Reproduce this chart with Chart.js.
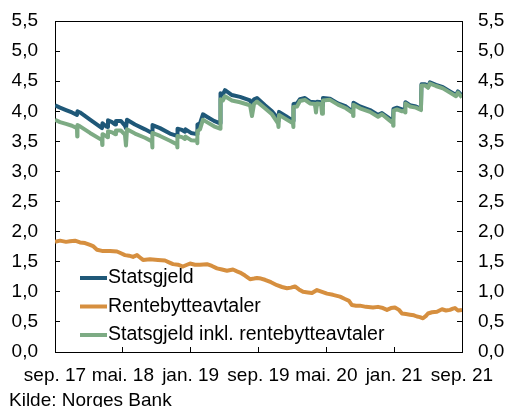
<!DOCTYPE html>
<html lang="no">
<head>
<meta charset="utf-8">
<title>Statsgjeld – rentebindingstid</title>
<script src="https://cdn.jsdelivr.net/npm/chart.js@4.4.1/dist/chart.umd.min.js"></script>
<style>
  html, body { margin: 0; padding: 0; background: #fff; }
  canvas { display: block; }
</style>
</head>
<body>
<canvas id="chart" width="507" height="407"></canvas>
<script>
// x values are months counted from September 2017
const tickMonths = [0, 8, 16, 24, 32, 40, 48];
const tickLabels = ['sep. 17', 'mai. 18', 'jan. 19', 'sep. 19', 'mai. 20', 'jan. 21', 'sep. 21'];

const seriesNames = ['Statsgjeld', 'Rentebytteavtaler', 'Statsgjeld inkl. rentebytteavtaler'];

const statsgjeldMonths = [
  0.00, 0.59, 1.30, 2.00, 2.59, 2.65, 2.95, 4.13, 5.54, 5.60, 6.01, 6.19, 6.25, 6.72, 7.08, 7.19,
  7.78, 8.25, 8.37, 8.49, 9.43, 10.61, 11.44, 11.50, 12.38, 13.56, 14.39, 14.45, 14.98, 15.33, 15.39,
  16.04, 16.75, 16.80, 17.10, 17.45, 17.92, 18.75, 19.46, 19.52, 19.81, 20.05, 20.87, 21.82, 23.00,
  23.23, 23.47, 23.82, 24.76, 25.59, 26.30, 26.36, 26.42, 27.24, 28.07, 28.13, 28.54, 28.89, 29.48,
  30.07, 30.66, 30.78, 30.90, 31.37, 31.49, 31.60, 32.43, 33.37, 34.32, 35.14, 35.20, 35.97, 37.15,
  38.10, 38.56, 39.27, 39.86, 39.92, 40.33, 40.92, 41.27, 41.33, 41.86, 42.57, 43.16, 43.22, 43.63,
  43.99, 44.22, 44.93, 45.75, 46.58, 47.29, 47.52, 48.00
];
const statsgjeldValues = [
  4.10, 4.06, 4.02, 3.98, 3.94, 4.00, 3.98, 3.86, 3.72, 3.80, 3.75, 3.74, 3.85, 3.82, 3.78, 3.84,
  3.84, 3.76, 3.72, 3.86, 3.78, 3.70, 3.64, 3.77, 3.72, 3.63, 3.59, 3.71, 3.69, 3.66, 3.70,
  3.64, 3.62, 3.78, 3.80, 3.95, 3.91, 3.84, 3.80, 4.30, 4.28, 4.35, 4.27, 4.24, 4.18,
  4.12, 4.20, 4.22, 4.10, 4.00, 3.88, 3.84, 3.99, 3.92, 3.84, 4.12, 4.13, 4.20, 4.22,
  4.16, 4.15, 4.06, 4.16, 4.15, 4.10, 4.22, 4.21, 4.13, 4.08, 3.99, 4.14, 4.08, 4.02,
  3.94, 3.97, 3.90, 3.83, 4.04, 4.06, 4.03, 4.03, 4.15, 4.10, 4.08, 4.04, 4.45, 4.45,
  4.41, 4.48, 4.44, 4.40, 4.33, 4.27, 4.33, 4.26
];

const swapMonths = [
  0.00, 0.59, 1.30, 1.77, 2.36, 2.95, 3.54, 4.13, 4.48, 4.95, 5.54, 6.49, 7.31, 7.78, 8.25, 8.73,
  9.20, 9.67, 10.02, 10.38, 11.20, 12.15, 12.97, 13.44, 13.92, 14.50, 15.09, 15.57, 15.92, 16.51,
  17.10, 17.92, 18.51, 19.10, 19.69, 20.28, 20.99, 21.46, 21.82, 22.41, 23.00, 23.47, 23.82, 24.29,
  24.76, 25.47, 26.18, 26.77, 27.36, 27.83, 28.30, 28.77, 29.25, 29.83, 30.31, 30.90, 31.49, 32.08,
  32.78, 33.61, 34.20, 34.67, 35.02, 35.50, 35.97, 36.67, 37.50, 38.09, 38.68, 39.15, 39.62, 40.09,
  40.57, 40.92, 41.39, 41.86, 42.33, 42.69, 43.04, 43.40, 43.75, 43.99, 44.46, 45.05, 45.64, 46.11,
  46.58, 46.93, 47.17, 47.52, 48.00
];
const swapValues = [
  1.83, 1.85, 1.83, 1.84, 1.85, 1.82, 1.81, 1.78, 1.76, 1.70, 1.68, 1.68, 1.67, 1.64, 1.61, 1.60,
  1.58, 1.61, 1.57, 1.53, 1.54, 1.53, 1.52, 1.49, 1.46, 1.45, 1.42, 1.45, 1.47, 1.45,
  1.45, 1.46, 1.43, 1.39, 1.37, 1.35, 1.37, 1.34, 1.32, 1.27, 1.21, 1.22, 1.23, 1.22,
  1.20, 1.16, 1.11, 1.08, 1.06, 1.07, 1.09, 1.04, 1.00, 0.99, 0.98, 1.03, 1.00, 0.97,
  0.95, 0.92, 0.88, 0.85, 0.78, 0.77, 0.77, 0.75, 0.74, 0.75, 0.73, 0.70, 0.73, 0.74,
  0.70, 0.64, 0.63, 0.62, 0.61, 0.59, 0.58, 0.56, 0.60, 0.64, 0.66, 0.67, 0.71, 0.69,
  0.70, 0.72, 0.73, 0.69, 0.70
];

const inklMonths = [
  0.00, 0.59, 1.30, 2.00, 2.59, 2.62, 2.65, 2.95, 4.13, 5.54, 5.57, 5.60, 6.01, 6.19, 6.25, 6.72,
  7.08, 7.19, 7.78, 8.25, 8.37, 8.49, 9.43, 10.61, 11.44, 11.47, 11.50, 12.38, 13.56, 14.39, 14.42,
  14.45, 14.98, 15.33, 15.39, 16.04, 16.75, 16.78, 16.80, 17.10, 17.45, 17.92, 18.75, 19.46, 19.52,
  19.81, 20.05, 20.87, 21.82, 23.00, 23.23, 23.47, 23.82, 24.76, 25.59, 26.30, 26.36, 26.42, 27.24,
  28.07, 28.10, 28.13, 28.54, 28.89, 29.48, 30.07, 30.66, 30.78, 30.90, 31.37, 31.49, 31.60, 32.43,
  33.37, 34.32, 35.14, 35.17, 35.20, 35.97, 37.15, 38.10, 38.56, 39.27, 39.86, 39.89, 39.92, 40.33,
  40.92, 41.27, 41.30, 41.33, 41.86, 42.57, 43.16, 43.22, 43.63, 43.99, 44.22, 44.93, 45.75, 46.58,
  47.29, 47.52, 48.00
];
const inklValues = [
  3.86, 3.82, 3.79, 3.76, 3.72, 3.58, 3.77, 3.75, 3.64, 3.52, 3.44, 3.62, 3.59, 3.57, 3.67, 3.65,
  3.62, 3.68, 3.68, 3.61, 3.43, 3.70, 3.63, 3.56, 3.50, 3.40, 3.64, 3.59, 3.51, 3.45, 3.40,
  3.59, 3.57, 3.54, 3.58, 3.52, 3.51, 3.47, 3.67, 3.70, 3.86, 3.82, 3.75, 3.71, 4.20,
  4.18, 4.25, 4.18, 4.15, 4.10, 3.92, 4.12, 4.16, 4.05, 3.95, 3.80, 3.74, 3.94, 3.87,
  3.80, 3.74, 4.07, 4.08, 4.17, 4.19, 4.13, 4.12, 3.98, 4.13, 4.12, 3.96, 4.18, 4.19,
  4.11, 4.05, 3.97, 3.92, 4.11, 4.05, 3.99, 3.91, 3.95, 3.87, 3.80, 3.76, 4.01, 4.03,
  4.00, 4.01, 3.98, 4.13, 4.08, 4.06, 4.02, 4.43, 4.43, 4.39, 4.46, 4.42, 4.38, 4.31,
  4.25, 4.31, 4.23
];

const colors = ['#1f5878', '#d68f3f', '#7dab84'];

const fontFamily = '"Liberation Sans", Arial, Helvetica, sans-serif';
const font = { family: fontFamily, size: 19 };
const legendFontSize = 19.5;

function points(months, values) {
  return months.map((m, i) => ({ x: m, y: values[i] }));
}

function decimalComma(v) {
  return v.toFixed(1).replace('.', ',');
}

// fixed axis sizes; the label overhang padding is dropped so the plot keeps its frame
function fixSize(size) {
  return (s) => {
    if (s.isHorizontal()) s.height = size; else s.width = size;
    s.paddingTop = s.paddingBottom = s.paddingLeft = s.paddingRight = 0;
  };
}

// legend inside the plot, lower left, plus the source line under the axis
const legendAndSource = {
  id: 'legendAndSource',
  afterDraw(chart) {
    const { ctx, chartArea } = chart;
    ctx.save();
    ctx.fillStyle = '#000';
    ctx.font = `${legendFontSize}px ${fontFamily}`;
    ctx.textBaseline = 'middle';
    chart.data.datasets.forEach((ds, i) => {
      const y = chartArea.bottom - 74 + i * 28.5;
      ctx.strokeStyle = ds.borderColor;
      ctx.lineWidth = 4;
      ctx.beginPath();
      ctx.moveTo(chartArea.left + 25, y);
      ctx.lineTo(chartArea.left + 52, y);
      ctx.stroke();
      ctx.fillText(ds.label, chartArea.left + 53, y);
    });
    ctx.font = `${font.size}px ${fontFamily}`;
    ctx.textBaseline = 'alphabetic';
    ctx.fillText('Kilde: Norges Bank', 9, 406);
    ctx.restore();
  }
};

const lineStyle = { borderWidth: 4, pointRadius: 0, tension: 0, fill: false, borderJoinStyle: 'round' };

new Chart(document.getElementById('chart'), {
  type: 'line',
  data: {
    datasets: [
      { ...lineStyle, label: seriesNames[0], data: points(statsgjeldMonths, statsgjeldValues), borderColor: colors[0], order: 2 },
      { ...lineStyle, label: seriesNames[1], data: points(swapMonths, swapValues), borderColor: colors[1], order: 1 },
      { ...lineStyle, label: seriesNames[2], data: points(inklMonths, inklValues), borderColor: colors[2], order: 0 }
    ]
  },
  options: {
    responsive: false,
    animation: false,
    events: [],
    layout: { padding: { top: 21, left: 0, right: 0, bottom: 0 } },
    plugins: { legend: { display: false }, tooltip: { enabled: false } },
    scales: {
      x: {
        type: 'linear',
        position: 'bottom',
        min: 0,
        max: 48,
        afterBuildTicks: (s) => { s.ticks = tickMonths.map(v => ({ value: v })); },
        afterFit: fixSize(55),
        ticks: {
          autoSkip: false,
          maxRotation: 0,
          color: '#000',
          font,
          padding: 17,
          callback: (v, i) => tickLabels[i]
        },
        grid: { drawOnChartArea: false, tickLength: -5, color: '#000' },
        border: { color: '#000', width: 1 }
      },
      xTop: {
        type: 'linear',
        position: 'top',
        min: 0,
        max: 48,
        afterFit: fixSize(0),
        ticks: { display: false },
        grid: { display: false, drawTicks: false },
        border: { color: '#000', width: 1 }
      },
      y: {
        position: 'left',
        min: 0,
        max: 5.5,
        afterFit: fixSize(55),
        ticks: { stepSize: 0.5, color: '#000', font, padding: 22, callback: decimalComma },
        grid: { drawOnChartArea: false, tickLength: -5, color: '#000' },
        border: { color: '#000', width: 1 }
      },
      yRight: {
        position: 'right',
        min: 0,
        max: 5.5,
        afterFit: fixSize(45),
        ticks: { stepSize: 0.5, color: '#000', font, padding: 21, callback: decimalComma },
        grid: { drawOnChartArea: false, tickLength: -5, color: '#000' },
        border: { color: '#000', width: 1 }
      }
    }
  },
  plugins: [legendAndSource]
});
</script>
</body>
</html>
